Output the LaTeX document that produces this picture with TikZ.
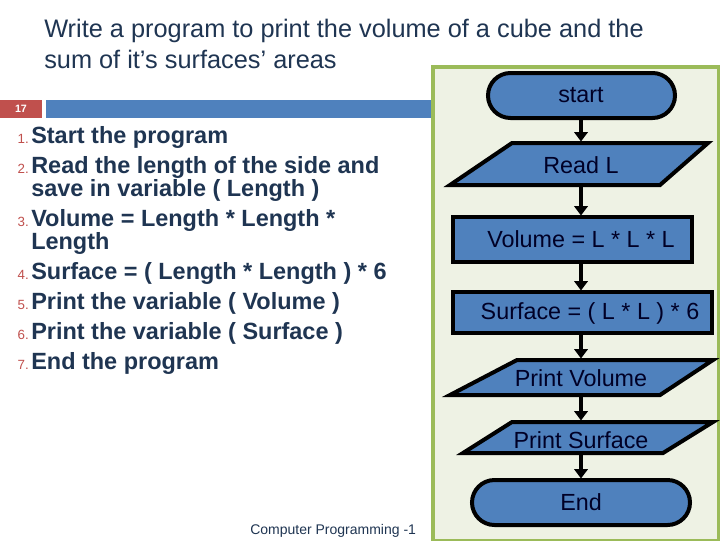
\documentclass[tikz,border=0pt]{standalone}
\usepackage{fontspec}
\setmainfont{Liberation Sans}
\usetikzlibrary{arrows.meta}
\definecolor{navy}{HTML}{1F3552}
\definecolor{fcblue}{HTML}{4F81BD}
\definecolor{panel}{HTML}{EEF2E4}
\definecolor{pgreen}{HTML}{9BBB59}
\definecolor{nred}{HTML}{C0504D}
\tikzset{
 title/.style={anchor=west,text=navy,font=\fontsize{19}{22}\selectfont,inner sep=0},
 item/.style={anchor=west,text=navy,font=\bfseries\fontsize{17.6}{20}\selectfont,inner sep=0},
 num/.style={anchor=east,text=nred,font=\fontsize{10}{11}\selectfont,inner sep=0},
 fc/.style={draw=black,line width=3pt,fill=fcblue},
 fct/.style={font=\fontsize{17.5}{20}\selectfont,text=black!85!blue},
 arr/.style={line width=3pt,-{Triangle[length=7pt,width=10pt]}}
}
\begin{document}
\begin{tikzpicture}[x=0.75pt,y=-0.75pt]
\useasboundingbox (0,0) rectangle (720,540);
\fill[white] (0,0) rectangle (720,540);
\node[title] (t1) at (44,31) {Write a program to print the volume of a cube and the};
\node[title] (t2) at (44,59) {sum of it’s surfaces’ areas};
\fill[nred] (0,100) rectangle (42,118);
\node[text=white,font=\bfseries\fontsize{8}{9}\selectfont] (pg) at (21,109) {17};
\fill[fcblue] (46,100) rectangle (432,118);
\foreach \n/\y/\t in {1/137/Start the program,2/167/Read the length of the side and,3/220/Volume = Length * Length *,4/273/Surface = ( Length * Length ) * 6,5/303/Print the variable ( Volume ),6/333/Print the variable ( Surface ),7/363/End the program}{
 \node[num] at (29,\y+2) {\n.};
 \node[item] at (31,\y) {\t};
}
\node[item] (c1) at (31,190) {save in variable ( Length )};
\node[item] (c2) at (31,243) {Length};
\node[anchor=west,inner sep=0,text=navy,font=\fontsize{10.5}{12}\selectfont] (foot) at (250,531) {Computer Programming -1};
% panel
\draw[draw=pgreen,line width=3pt,fill=panel] (433,67) rectangle (719,541);
% shapes
\draw[fc,rounded corners=22.5*0.75pt] (488,73) rectangle (675,118);
\node[fct] (start) at (581,95) {start};
\draw[fc] (450,185) -- (512,143) -- (708,143) -- (660,185) -- cycle;
\node[fct] (read) at (581,165) {Read L};
\draw[fc] (453,217) rectangle (692,262);
\node[fct] (vol) at (581,239) {Volume = L * L * L};
\draw[fc] (453,292) rectangle (712,333);
\node[fct] (sur) at (590,313) {Surface = ( L * L ) * 6};
\draw[fc] (450,395) -- (517,360) -- (713,360) -- (660,395) -- cycle;
\node[fct] (pv) at (581,378) {Print Volume};
\draw[fc] (463,453) -- (512,422) -- (713,422) -- (663,453) -- cycle;
\node[fct] (ps) at (581,440) {Print Surface};
\draw[fc,rounded corners=22.5*0.75pt] (472,480) rectangle (690,525);
\node[fct] (end) at (581,502) {End};
\coordinate (a1) at (581,119.5); \coordinate (b1) at (581,141.5);
\coordinate (a2) at (581,186.5); \coordinate (b2) at (581,215.5);
\coordinate (a3) at (581,263.5); \coordinate (b3) at (581,290.5);
\coordinate (a4) at (581,334.5); \coordinate (b4) at (581,358.5);
\coordinate (a5) at (581,396.5); \coordinate (b5) at (581,420.5);
\coordinate (a6) at (581,454.5); \coordinate (b6) at (581,478.5);
\foreach \i in {1,...,6}{\draw[arr] (a\i) -- (b\i);}
\end{tikzpicture}
\end{document}
